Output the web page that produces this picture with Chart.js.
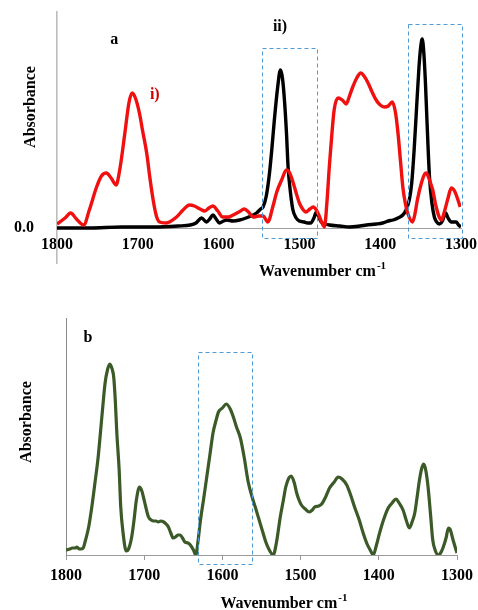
<!DOCTYPE html>
<html><head><meta charset="utf-8">
<script src="https://cdn.jsdelivr.net/npm/chart.js@4"></script>
<style>
html,body{margin:0;padding:0;background:#fff;width:478px;height:610px;overflow:hidden}
#wa{position:absolute;left:0;top:0;width:478px;height:290px}
#wb{position:absolute;left:0;top:300px;width:478px;height:310px}
</style></head><body>
<div id="wa"><canvas id="ca" width="478" height="290"></canvas></div>
<div id="wb"><canvas id="cb" width="478" height="310"></canvas></div>
<script>
// ---- data (arbitrary absorbance units) ----
const xTickValues = [1800, 1700, 1600, 1500, 1400, 1300];

const redWavenumber = [1800,1790,1783,1776,1767,1760,1751,1745,1739,1733,1727,1722,1716,1711,1707,1703,1698,1694,1689,1685,1681,1677,1673,1665,1652,1644,1636,1630,1623,1617,1612,1607,1601,1595,1588,1582,1575,1568,1563,1557,1550,1545,1539,1533,1528,1522,1516,1512,1508,1504,1500,1496,1492,1487,1483,1479,1476,1472,1469,1466,1463,1460,1457,1452,1447,1442,1438,1434,1429,1424,1420,1415,1410,1405,1400,1395,1390,1385,1381,1378,1375,1372,1369,1366,1360,1357,1354,1349,1345,1343,1339,1335,1331,1327,1324,1321,1316,1312,1308,1305,1301];
const redAbsorbance = [4,10,15,9,3,18,41,52,55,50,43,60,95,125,135,130,115,97,75,50,28,12,6,5,11,18,23,22,19,17,20,22,17,11,11,13,16,19,16,11,12,12,6,21,36,48,58,55,46,35,25,19,16,19,21,18,13,5,1,25,61,92,118,130,128,124,132,141,150,155,152,145,136,128,123,121,122,126,115,95,68,41,25,15,6,14,28,45,54,55,48,38,22,11,8,15,30,40,37,31,21];

const blackWavenumber = [1800,1760,1720,1680,1650,1635,1628,1621,1615,1611,1607,1603,1599,1594,1590,1582,1574,1566,1560,1553,1548,1545,1541,1537,1534,1531,1527,1523.5,1521,1518.5,1516,1514,1511,1508,1504,1500,1494,1490,1486,1482,1479,1476,1473,1468,1463,1450,1438,1425,1417,1405,1397,1390,1384,1378,1372,1368,1364,1361,1358,1355,1352,1350,1348,1346,1344,1342,1339,1336,1333,1330,1327,1323,1319,1316,1312,1306,1303,1300];
const blackAbsorbance = [0,0,1,1,2,3,5,10,6,9,13,9,5,7,8,7,8,10,12,15,19,21,32,55,80,108,140,158,150,128,95,61,35,18,10,7,6,5,5,10,16,11,6,4,3,2,1,2,3,4,5,7,8,10,13,18,28,45,78,120,161,180,189,175,145,105,51,25,11,6,4,7,15,10,6,6,3,1];

const greenWavenumber = [1800,1795,1792,1788,1786,1783,1781,1778,1775,1771,1767,1763,1759,1756,1753,1750,1747,1744,1741,1739,1737,1735,1732,1730,1727,1723,1720,1716,1713,1710,1706,1703,1701,1698,1694.5,1691,1688,1685,1682,1679,1675,1672,1669,1666,1663,1660,1657,1654,1651,1648,1644,1641,1637,1634,1631,1628,1624,1620,1616,1612,1608,1605,1600,1595,1590,1586,1582,1577,1572,1567,1562,1558,1553,1548,1544,1540,1535,1531,1526,1522,1519,1515,1512,1508,1505,1502,1499,1494,1489,1485,1482,1477,1473,1468,1463,1457,1452,1447,1441,1436,1431,1425,1420,1415,1411,1407,1403,1399,1394,1388,1383,1378,1374,1369,1365,1361,1357,1354,1351,1348,1345,1342.6,1340,1337,1334,1331,1328,1324,1321,1318,1314,1311,1309,1305,1302,1300];
const greenAbsorbance = [5,6,7,7,8,6,6,7,15,28,48,72,97,122,148,172,185,191,186,178,155,122,85,48,22,4,6,18,35,55,68,64,58,48,38,35,34,34,33,34,33,31,28,22,17,18,20,20,17,13,12,10,5,0,15,35,56,78,100,122,135,143,147,151,146,138,128,117,97,73,58,48,35,22,12,5,0,12,38,55,68,77,79,72,62,55,50,46,43,45,48,49,51,58,67,73,78,76,70,60,48,35,22,11,5,0,10,22,35,47,52,56,52,45,35,27,34,42,58,75,87,91,85,68,42,15,5,0,2,7,17,27,26,15,7,2];

// highlighted ranges: [wavenumber from, wavenumber to, absorbance top, absorbance bottom]
const boxRangesA = [[1546, 1478, 180, -10], [1366, 1299, 204, -10]];
const boxRangesB = [[1631, 1562, 203, -9]];

// panel labels: [text, wavenumber, absorbance, colour]
const labelsA = [['a', 1729, 188, '#000'], ['ii)', 1524, 201, '#000'], ['i)', 1679, 133, '#d00000']];
const labelsB = [['b', 1772, 217, '#000']];

const pts = (xs, ys) => xs.map((v, i) => ({x: v, y: ys[i]}));
const FONT = '"Liberation Serif", "Times New Roman", serif';

const annot = {
  id: 'annot',
  afterDatasetsDraw(chart, args, o) {
    const {ctx, scales: {x, y}} = chart;
    ctx.save();
    ctx.strokeStyle = '#4f9bd6'; ctx.lineWidth = 1; ctx.setLineDash([4, 3]);
    (o.boxes || []).forEach(b => {
      const x0 = Math.round(x.getPixelForValue(b[0])), x1 = Math.round(x.getPixelForValue(b[1]));
      const y0 = Math.round(y.getPixelForValue(b[2])), y1 = Math.round(y.getPixelForValue(b[3]));
      ctx.strokeRect(x0 + 0.5, y0 + 0.5, x1 - x0, y1 - y0);
    });
    ctx.restore();
  },
  afterDraw(chart, args, o) {
    const {ctx, scales: {x, y}} = chart;
    ctx.save();
    ctx.font = 'bold 16px ' + FONT;
    ctx.textAlign = 'center'; ctx.textBaseline = 'middle';
    (o.labels || []).forEach(l => {
      ctx.fillStyle = l[3];
      ctx.fillText(l[0], x.getPixelForValue(l[1]), y.getPixelForValue(l[2]));
    });
    // y title
    ctx.fillStyle = '#000';
    ctx.save();
    ctx.translate(o.yTitle[0], o.yTitle[1]);
    ctx.rotate(-Math.PI / 2);
    ctx.fillText('Absorbance', 0, 0);
    ctx.restore();
    // x title with superscript
    const main = 'Wavenumber cm', sup = '-1';
    ctx.font = 'bold 16px ' + FONT;
    const w1 = ctx.measureText(main).width;
    ctx.font = 'bold 11px ' + FONT;
    const w2 = ctx.measureText(sup).width;
    const cx = x.getPixelForValue(o.xTitle[0]);
    const left = cx - (w1 + w2) / 2;
    ctx.textAlign = 'left'; ctx.textBaseline = 'alphabetic';
    ctx.font = 'bold 16px ' + FONT;
    ctx.fillText(main, left, o.xTitle[1]);
    ctx.font = 'bold 11px ' + FONT;
    ctx.fillText(sup, left + w1 + 1, o.xTitle[1] - 7);
    ctx.restore();
  }
};

const tickFont = {family: FONT, size: 16, weight: 'bold'};
function xScale(extra) {
  return Object.assign({
    type: 'linear', min: 1300, max: 1800, reverse: true,
    afterBuildTicks: s => { s.ticks = xTickValues.map(v => ({value: v})); },
  }, extra);
}

new Chart(document.getElementById('ca'), {
  type: 'line',
  data: {datasets: [
    {label: 'i)', data: pts(redWavenumber, redAbsorbance), borderColor: '#f01010', borderWidth: 3.4, pointRadius: 0, cubicInterpolationMode: 'monotone'},
    {label: 'ii)', data: pts(blackWavenumber, blackAbsorbance), borderColor: '#000', borderWidth: 3.4, pointRadius: 0, cubicInterpolationMode: 'monotone'}
  ]},
  options: {
    responsive: false, animation: false,
    layout: {padding: {top: 12, right: 17, left: 0, bottom: 27}},
    plugins: {legend: {display: false}, tooltip: {enabled: false},
      annot: {boxes: boxRangesA, labels: labelsA, yTitle: [31, 107], xTitle: [1472, 276]}},
    scales: {
      x: xScale({position: {y: 0},
        afterFit: s => { s.height = 0; s.paddingLeft = 0; s.paddingRight = 0; s.paddingTop = 0; s.paddingBottom = 0; },
        grid: {display: false, drawTicks: false},
        border: {color: '#a0a0a0', width: 1},
        ticks: {color: '#000', padding: 7, font: tickFont, maxRotation: 0, autoSkip: false, callback: v => String(v)}}),
      y: {type: 'linear', min: -35, max: 216,
        afterFit: s => { s.width = 57; s.paddingTop = 0; s.paddingBottom = 0; s.paddingLeft = 0; s.paddingRight = 0; },
        afterBuildTicks: s => { s.ticks = [{value: 0}]; },
        grid: {display: false, drawTicks: false},
        border: {color: '#bdbdbd', width: 1.6},
        ticks: {padding: 23, color: '#000', font: tickFont, callback: v => Number(v).toFixed(1)}}
    }
  },
  plugins: [annot]
});

new Chart(document.getElementById('cb'), {
  type: 'line',
  data: {datasets: [
    {label: 'b', data: pts(greenWavenumber, greenAbsorbance), borderColor: '#3b5a28', borderWidth: 3.2, pointRadius: 0, cubicInterpolationMode: 'monotone'}
  ]},
  options: {
    responsive: false, animation: false,
    layout: {padding: {top: 18, right: 21, left: 0, bottom: 0}},
    plugins: {legend: {display: false}, tooltip: {enabled: false},
      annot: {boxes: boxRangesB, labels: labelsB, yTitle: [27, 122], xTitle: [1522, 308]}},
    scales: {
      x: xScale({position: 'bottom',
        afterFit: s => { s.height = 55; s.paddingLeft = 0; s.paddingRight = 0; s.paddingTop = 0; s.paddingBottom = 0; },
        grid: {display: true, drawOnChartArea: false, drawTicks: true, tickLength: 5, color: '#9a9a9a'},
        border: {color: '#9a9a9a', width: 1},
        ticks: {color: '#000', padding: 6, font: tickFont, maxRotation: 0, autoSkip: false, callback: v => String(v)}}),
      y: {type: 'linear', min: 0, max: 237,
        afterFit: s => { s.width = 66; s.paddingTop = 0; s.paddingBottom = 0; s.paddingLeft = 0; s.paddingRight = 0; },
        grid: {display: false, drawTicks: false},
        border: {color: '#8a8a8a', width: 1},
        ticks: {display: false}}
    }
  },
  plugins: [annot]
});
</script>
</body></html>
